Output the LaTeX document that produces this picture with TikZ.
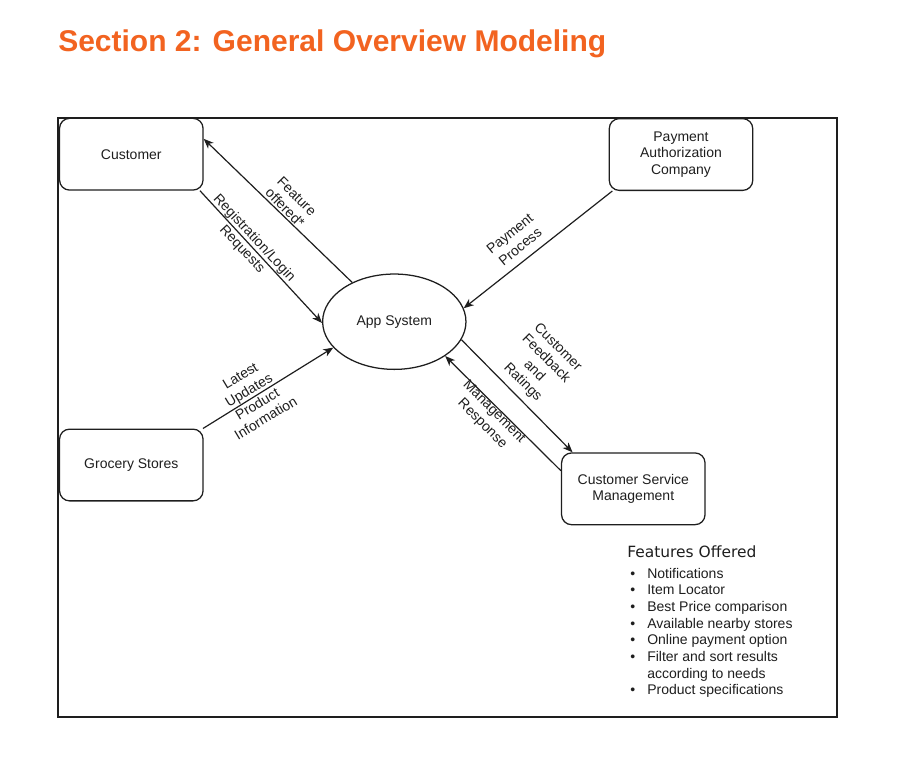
\documentclass[tikz,border=0pt]{standalone}
\usepackage{fontspec}
\setmainfont{Liberation Sans}
\newfontfamily\headfont{DejaVu Sans}
\usetikzlibrary{shapes.geometric,arrows.meta}
\definecolor{titleorange}{RGB}{242,99,32}
\definecolor{inkc}{RGB}{30,30,30}
\tikzset{
  boxnode/.style={draw=inkc, line width=0.95pt, rounded corners=7.5pt,
    minimum width=107.6pt, minimum height=53.8pt, inner sep=2pt,
    align=center, text=inkc, font=\fontsize{10.5}{12.4}\selectfont},
  procnode/.style={draw=inkc, line width=0.95pt, ellipse,
    minimum width=107.5pt, minimum height=71.5pt, inner sep=0pt,
    text=inkc, font=\fontsize{10.5}{12.4}\selectfont},
  flowlabel/.style={align=center, text=inkc, inner sep=0pt,
    font=\fontsize{10.5}{12.4}\selectfont},
  flow/.style={draw=inkc, line width=0.9pt,
    -{Stealth[length=7.5pt,width=6pt,inset=2.2pt]}}
}
\begin{document}
\begin{tikzpicture}[x=0.75pt,y=-0.75pt]
\useasboundingbox (0,0) rectangle (902,779);
% title
\node[anchor=base west, inner sep=0pt, text=titleorange,
  font=\fontsize{22.5}{27}\selectfont\bfseries] (title) at (58,51)
  {Section 2: General Overview Modeling};
% frame
\draw[line width=0.8pt, inkc] (58,118) rectangle (837,717);
\draw[line width=1.9pt, inkc] (57.5,717) -- (837.5,717);
% nodes
\node[boxnode] (cust) at (131.3,154.2) {Customer};
\node[boxnode] (pay) at (681,154.5) {Payment\\Authorization\\Company};
\node[procnode] (app) at (394.3,321.7) {App System};
\node[boxnode] (groc) at (131.3,465) {Grocery Stores};
\node[boxnode] (csm) at (633.3,488.8) {Customer Service\\Management};
% connectors
\draw[flow] (app.137) -- (cust.12);
\draw[flow] (cust.-28) -- (app.181);
\draw[flow] (pay.208) -- (app.11);
\draw[flow] (groc.27) -- (app.203);
\draw[flow] (app.-15) -- (csm.149);
\draw[flow] (csm.166) -- (app.-34);
% connector labels
\node[flowlabel, rotate=-45] (lfeat) at (291,202) {Feature\\offered*};
\node[flowlabel, rotate=-47] (lreg) at (248,244) {Registration/Login\\Requests};
\node[flowlabel, rotate=39] (lpay) at (515,240) {Payment\\Process};
\node[flowlabel, rotate=31] (llat) at (253,397) {Latest\\Updates\\Product\\Information};
\node[flowlabel, rotate=-45] (lfb) at (540,365) {Customer\\Feedback\\and\\Ratings};
\node[flowlabel, rotate=-45] (lmgmt) at (488,418) {Management\\Response};
% features list
\node[anchor=base west, inner sep=0pt, text=inkc,
  font=\headfont\fontsize{11.6}{14}\selectfont] (feath) at (627,557) {Features Offered};
\node[anchor=base west, inner sep=0pt, text=inkc,
  font=\fontsize{10.5}{12.5}\selectfont] (featl) at (630,578.3)
  {\begin{tabular}[t]{@{}l@{}l@{}}
   \makebox[12.75pt][l]{\textbullet} & Notifications\\
   \makebox[12.75pt][l]{\textbullet} & Item Locator\\
   \makebox[12.75pt][l]{\textbullet} & Best Price comparison\\
   \makebox[12.75pt][l]{\textbullet} & Available nearby stores\\
   \makebox[12.75pt][l]{\textbullet} & Online payment option\\
   \makebox[12.75pt][l]{\textbullet} & Filter and sort results\\
    & according to needs\\
   \makebox[12.75pt][l]{\textbullet} & Product specifications
   \end{tabular}};
\end{tikzpicture}
\end{document}
